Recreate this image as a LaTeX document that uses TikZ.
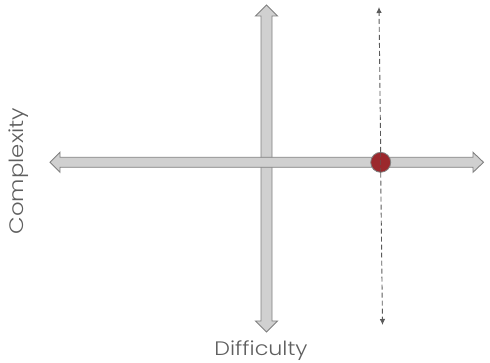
\documentclass[tikz,border=0pt]{standalone}
\usepackage{fontspec}
\usepackage{graphicx}
\setmainfont{Poppins}[UprightFont=* Light]
\usetikzlibrary{arrows.meta}
\definecolor{axfill}{RGB}{208,208,208}
\definecolor{axline}{RGB}{128,128,128}
\definecolor{dashc}{RGB}{90,90,90}
\definecolor{dotc}{RGB}{155,40,45}
\definecolor{txt}{RGB}{95,95,95}
\begin{document}
\begin{tikzpicture}[x=1pt,y=-1pt,
  axis/.style={fill=axfill,draw=axline,line width=0.9pt,line join=miter},
  dashplain/.style={draw=dashc,line width=0.9pt,dash pattern=on 5pt off 3pt},
  dashln/.style={dashplain,-{Latex[length=6pt,width=5.5pt]}},
  lbl/.style={text=txt,font=\fontsize{19.5}{22}\selectfont,inner sep=0pt}]
\useasboundingbox (0,0) rectangle (490,363);
% vertical double arrow
\draw[axis] (266.5,5) -- (277.5,16) -- (272,16) -- (272,321) -- (277.5,321) -- (266.5,332) -- (255.5,321) -- (261,321) -- (261,16) -- (255.5,16) -- cycle;
% horizontal double arrow
\draw[axis] (50,162.3) -- (60,152.3) -- (60,157.3) -- (473,157.3) -- (473,152.3) -- (483.5,162.3) -- (473,172.3) -- (473,167.3) -- (60,167.3) -- (60,172.3) -- cycle;
% dot
\coordinate (dmid) at (380.7,162.3);
\node[circle,minimum size=20pt,inner sep=0pt,fill=dotc,draw=axline,line width=0.8pt] (dot) at (dmid) {};
% dashed line
\coordinate (dtop) at (379,7);
\coordinate (dbot) at (382.5,325);
\draw[dashplain,draw opacity=0.5] (dot.north) -- (dot.south);
\draw[dashln] (dot.north) -- (dtop);
\draw[dashln] (dot.south) -- (dbot);
% labels
\node[lbl,anchor=base] (diff) at (261,355.7) {\scalebox{1.14}[1]{Difficulty}};
\node[lbl,anchor=base,rotate=90] (comp) at (23.5,171) {\scalebox{1.17}[1]{Complexity}};
\end{tikzpicture}
\end{document}
